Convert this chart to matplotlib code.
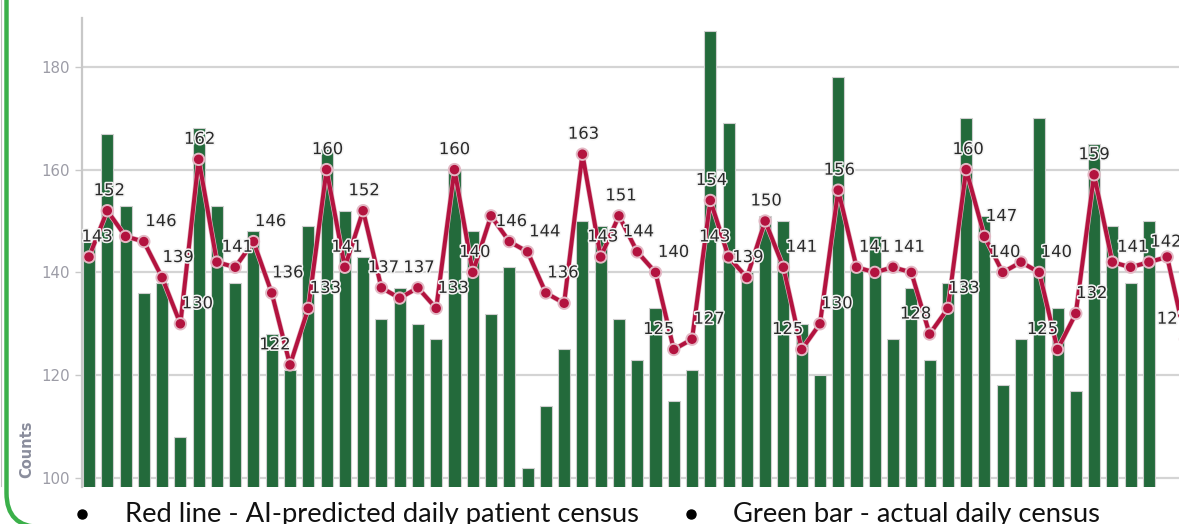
import matplotlib
matplotlib.use('Agg')
import matplotlib.pyplot as plt
import matplotlib.patheffects as pe
from matplotlib.patches import FancyBboxPatch
from matplotlib.lines import Line2D
from matplotlib.transforms import IdentityTransform
import numpy as np

# actual daily census (green bars)
actual = [146, 167, 153, 136, 138, 108, 168, 153, 138, 148,
          128, 121, 149, 164, 152, 143, 131, 137, 130, 127,
          160, 148, 132, 141, 102, 114, 125, 150, 149, 131,
          123, 133, 115, 121, 187, 169, 140, 151, 150, 130,
          120, 178, 141, 147, 127, 137, 123, 138, 170, 151,
          118, 127, 170, 133, 117, 165, 149, 138, 150]

# AI-predicted daily census (red line)
predicted = [143, 152, 147, 146, 139, 130, 162, 142, 141, 146,
             136, 122, 133, 160, 141, 152, 137, 135, 137, 133,
             160, 140, 151, 146, 144, 136, 134, 163, 143, 151,
             144, 140, 125, 127, 154, 143, 139, 150, 141, 125,
             130, 156, 141, 140, 141, 140, 128, 133, 160, 147,
             140, 142, 140, 125, 132, 159, 142, 141, 142, 143,
             127]

yticks = [100, 120, 140, 160, 180]

# horizontal shift (px) of each value label, None = no label shown
label_dx = [8, 2, None, 17, 16, 17, 1, None, 2, 17,
            16, -15, 17, 1, 2, 1, 2, None, 1, 17,
            0, 2, None, 2, 17, 17, None, 1, 2, 2,
            1, 18, -15, 17, 1, -14, 1, 1, 18, -14,
            17, 1, 18, None, 16, None, -14, 16, 2, 17,
            2, None, 17, -15, 16, 0, None, 2, 17, None,
            -13]

W, H = 1179, 524
fig = plt.figure(figsize=(W / 100, H / 100), dpi=100)
ax = fig.add_axes([82 / W, (H - 486.7) / H, 1140 / W, 468.7 / H])

xb = np.arange(len(actual))
xl = np.arange(len(predicted))
ax.bar(xb, actual, width=0.66, color='#236a3b', edgecolor='#cfcfcf',
       linewidth=0.8, zorder=2)
ax.plot(xl, predicted, color='#b3133f', lw=2.9, marker='o', ms=5.8, zorder=3,
        path_effects=[pe.Stroke(linewidth=3.8, foreground='#e3b9c5'), pe.Normal()])

for i, (v, dx) in enumerate(zip(predicted, label_dx)):
    if dx is None:
        continue
    ax.annotate(str(v), (i, v), xytext=(dx * 0.72, 20 * 0.72),
                textcoords='offset points', ha='center', va='center',
                fontsize=11.8, color='#2a2a2a', zorder=4, annotation_clip=False,
                path_effects=[pe.withStroke(linewidth=2.2, foreground='#f4f4f4')])

ax.set_xlim(-0.383, 62)
ax.set_ylim(98.3, 189.5)
ax.set_yticks(yticks)
ax.set_xticks([])
ax.tick_params(axis='y', length=5, width=1, color='#c8c8c8',
               labelcolor='#9c9ca6', labelsize=10.8, pad=4)
ax.grid(axis='y', color='#d4d4d4', lw=1.6)
ax.set_axisbelow(True)
for s in ['top', 'right', 'bottom']:
    ax.spines[s].set_visible(False)
ax.spines['left'].set_color('#c8c8c8')
ax.spines['left'].set_linewidth(1.6)

fig.text(27 / W, 1 - 449 / H, 'Counts', rotation=90, ha='center', va='center',
         fontsize=10.5, fontweight='bold', color='#8a8d9c')

# caption under the chart
fig.text(125 / W, 2 / H, 'Red line - AI-predicted daily patient census',
         family='Lato', fontsize=19.7, va='baseline', ha='left', color='#111111')
fig.text(733 / W, 2 / H, 'Green bar - actual daily census',
         family='Lato', fontsize=19.7, va='baseline', ha='left', color='#111111')
for bx in [82, 691]:
    fig.add_artist(Line2D([bx / W], [1 - 514 / H], transform=fig.transFigure,
                          marker='o', ms=6.5, color='black', ls='none'))

# slide frame
frame = FancyBboxPatch((6.5, -3), 3000, 3000, boxstyle='round,pad=0,rounding_size=34',
                       transform=IdentityTransform(), fill=False,
                       edgecolor='#3bb04a', lw=3.2)
fig.add_artist(frame)
fig.add_artist(Line2D([1, 1], [H - 486, H], transform=IdentityTransform(),
                      color='#c0c0c0', lw=0.8))

fig.savefig('out.png', dpi=100)
